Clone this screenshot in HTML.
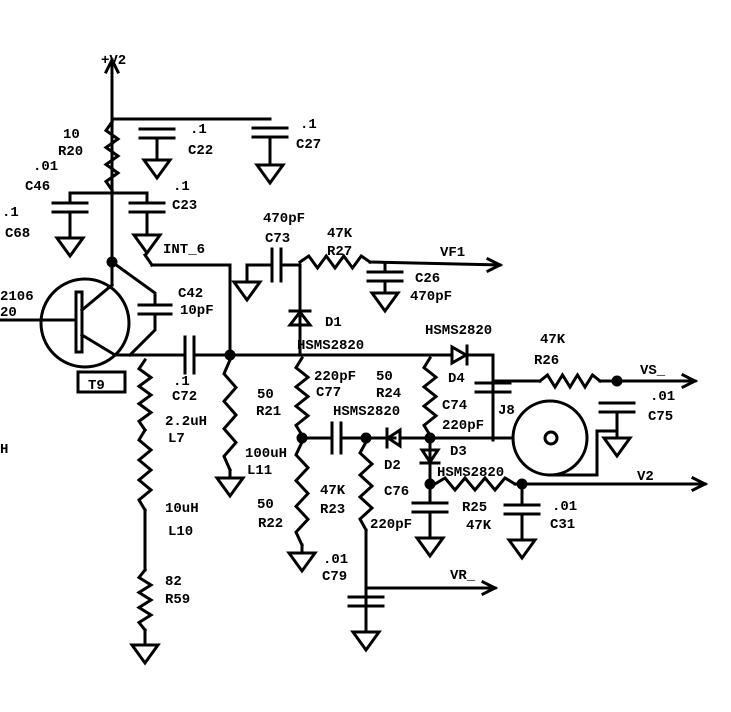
<!DOCTYPE html>
<html><head><meta charset="utf-8"><style>
html,body{margin:0;padding:0;background:#fff;width:731px;height:712px;overflow:hidden}
svg text{font-family:"Liberation Mono",monospace;font-weight:bold;font-size:14px;fill:#000}
</style></head><body>
<svg id="s" width="731" height="712" viewBox="0 0 731 712" xmlns="http://www.w3.org/2000/svg">
<g id="g" stroke="#000" stroke-width="3" fill="none" stroke-linecap="square"></g>
<g>
<text x="101" y="64">+V2</text>
<text x="63" y="138">10</text><text x="58" y="155">R20</text>
<text x="190" y="133">.1</text><text x="188" y="154">C22</text>
<text x="300" y="128">.1</text><text x="296" y="148">C27</text>
<text x="33" y="170">.01</text><text x="25" y="190">C46</text>
<text x="173" y="190">.1</text><text x="172" y="209">C23</text>
<text x="2" y="216">.1</text><text x="5" y="237">C68</text>
<text x="163" y="253">INT_6</text>
<text x="263" y="222">470pF</text><text x="265" y="242">C73</text>
<text x="327" y="237">47K</text><text x="327" y="255">R27</text>
<text x="440" y="256">VF1</text>
<text x="415" y="282">C26</text><text x="410" y="300">470pF</text>
<text x="0" y="300">2106</text><text x="0" y="316">20</text>
<text x="178" y="297">C42</text><text x="180" y="314">10pF</text>
<text x="325" y="326">D1</text>
<text x="297" y="349">HSMS2820</text>
<text x="425" y="334">HSMS2820</text>
<text x="540" y="343">47K</text><text x="534" y="364">R26</text>
<text x="640" y="374">VS_</text>
<text x="314" y="380">220pF</text><text x="316" y="396">C77</text>
<text x="376" y="380">50</text><text x="376" y="397">R24</text>
<text x="448" y="382">D4</text>
<text x="257" y="398">50</text><text x="256" y="415">R21</text>
<text x="173" y="385">.1</text><text x="172" y="400">C72</text>
<text x="333" y="415">HSMS2820</text>
<text x="442" y="409">C74</text><text x="442" y="429">220pF</text>
<text x="498" y="414">J8</text>
<text x="650" y="400">.01</text><text x="648" y="420">C75</text>
<text x="165" y="425">2.2uH</text><text x="168" y="442">L7</text>
<text x="245" y="457">100uH</text><text x="247" y="474">L11</text>
<text x="0" y="453">H</text>
<text x="384" y="469">D2</text>
<text x="450" y="455">D3</text>
<text x="437" y="476">HSMS2820</text>
<text x="637" y="480">V2</text>
<text x="320" y="494">47K</text><text x="320" y="513">R23</text>
<text x="384" y="495">C76</text>
<text x="462" y="511">R25</text><text x="466" y="529">47K</text>
<text x="552" y="510">.01</text><text x="550" y="528">C31</text>
<text x="257" y="508">50</text><text x="258" y="527">R22</text>
<text x="370" y="528">220pF</text>
<text x="165" y="512">10uH</text><text x="168" y="535">L10</text>
<text x="323" y="563">.01</text><text x="322" y="580">C79</text>
<text x="450" y="579">VR_</text>
<text x="165" y="585">82</text><text x="165" y="603">R59</text>
<text x="88" y="389">T9</text>
</g>
</svg>
<script>
var g=document.getElementById('g'),NS='http://www.w3.org/2000/svg';
function el(t,a){var e=document.createElementNS(NS,t);for(var k in a)e.setAttribute(k,a[k]);g.appendChild(e);return e}
function L(){var p=[];for(var i=0;i<arguments.length;i+=2)p.push(arguments[i]+','+arguments[i+1]);el('polyline',{points:p.join(' ')})}
function zv(x,y0,y1){var p=[x+','+y0],n=8,h=(y1-y0)/n;for(var i=1;i<n;i++)p.push((x+(i%2?-6:6))+','+(y0+i*h));p.push(x+','+y1);el('polyline',{points:p.join(' ')})}
function zh(y,x0,x1){var p=[x0+','+y],n=8,h=(x1-x0)/n;for(var i=1;i<n;i++)p.push((x0+i*h)+','+(y+(i%2?-6:6)));p.push(x1+','+y);el('polyline',{points:p.join(' ')})}
function capv(x,y,w){w=w||17;L(x-w,y,x+w,y);L(x-w,y+9,x+w,y+9)}
function caph(x,y,w){w=w||16;L(x,y-w,x,y+w);L(x+9,y-w,x+9,y+w)}
function gnd(x,y){el('polygon',{points:(x-13)+','+y+' '+(x+13)+','+y+' '+x+','+(y+18)})}
function dot(x,y){el('circle',{cx:x,cy:y,r:4,fill:'#000'})}
function arr(x,y,d){if(d=='r')L(x-12,y-6,x,y,x-12,y+6);else L(x-6,y+12,x,y,x+6,y+12)}
// +V2 rail
L(112,60,112,193);arr(112,60,'u');L(112,119,270,119);
capv(157,129);L(157,138,157,160);gnd(157,160);
capv(270,128);L(270,137,270,165);gnd(270,165);
zv(112,122,190);
L(70,193,147,193);capv(70,203);L(70,193,70,203);L(70,212,70,238);gnd(70,238);
capv(147,203);L(147,193,147,203);L(147,212,147,235);gnd(147,235);
// transistor
L(112,193,112,285);dot(112,262);
el('circle',{cx:85,cy:323,r:44});
L(0,320,76,320);el('rect',{x:76,y:292,width:6,height:60});
L(82,310,112,285);L(82,335,115,355);
L(112,262,155,293,155,305);capv(155,305,16);L(155,314,155,330,130,355);
L(152,265,230,265,230,355);L(145,255,152,265);
// emitter rail
L(115,355,185,355);caph(185,355,18);L(194,355,450,355);dot(230,355);
zv(145,360,430);zv(145,430,510);L(145,510,145,570);zv(145,570,630);L(145,630,145,645);gnd(145,645);
zv(230,360,470);L(230,470,230,478);gnd(230,478);
el('rect',{x:78,y:372,width:47,height:20});
// C73, R27
L(247,282,247,265,272,265);gnd(247,282);caph(272,265,16);L(281,265,300,265);zh(262,300,370);L(370,262,500,265);arr(500,265,'r');
capv(385,272);L(385,264,385,272);L(385,281,385,293);gnd(385,293);
L(300,265,300,355);el('polygon',{points:'290,325 310,325 300,312'});L(290,311,310,311);
// D1 area, R21 etc
zv(302,358,435);dot(302,438);L(302,438,332,438);caph(332,438,15);L(341,438,395,438);dot(366,438);
el('polygon',{points:'400,430 400,446 388,438'});L(387,429,387,447);L(400,438,510,438);
zv(302,442,545);L(302,545,302,553);gnd(302,553);
zv(366,442,530);L(366,530,366,632);gnd(366,632);capv(366,597);L(366,588,495,588);arr(495,588,'r');
zv(430,358,435);
// D4
el('polygon',{points:'452,347 452,363 466,355'});L(467,346,467,364);L(466,355,493,355,493,440);
capv(493,383);L(493,383,493,383);L(493,381,540,381);zh(381,540,600);L(600,381,695,381);arr(695,381,'r');dot(617,381);
capv(617,403);L(617,412,617,438);gnd(617,438);
// coax
el('circle',{cx:550,cy:438,r:37});el('circle',{cx:551,cy:438,r:6});
L(550,475,597,475,597,431,617,431);
// D3
L(430,438,430,483);el('polygon',{points:'422,450 438,450 430,462'});L(421,463,439,463);dot(430,484);dot(430,438);
zh(484,435,515);L(515,484,705,484);arr(705,484,'r');dot(522,484);
capv(430,503);L(430,484,430,503);L(430,512,430,538);gnd(430,538);
capv(522,505);L(522,484,522,505);L(522,514,522,540);gnd(522,540);
</script>
</body></html>
